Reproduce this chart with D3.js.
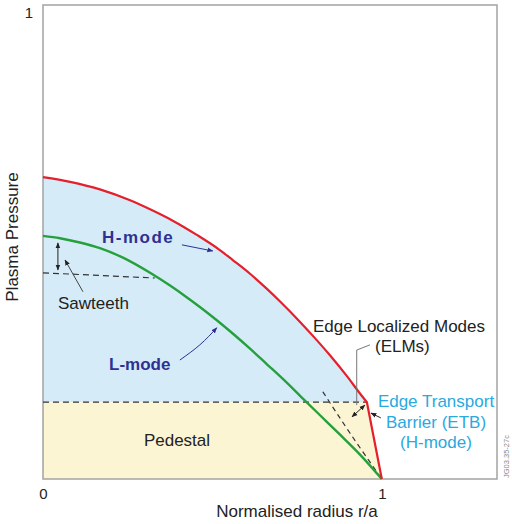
<!DOCTYPE html>
<html>
<head>
<meta charset="utf-8">
<script src="https://cdn.jsdelivr.net/npm/d3@7"></script>
<style>
  body { margin: 0; background: #fff; }
  svg { display: block; font-family: "Liberation Sans", Arial, sans-serif; }
</style>
</head>
<body>
<svg id="chart" width="512" height="524"></svg>
<script>
// normalised radius r/a and plasma pressure
const hModeR = [0, 0.080, 0.168, 0.257, 0.316, 0.383, 0.454, 0.522, 0.560, 0.611, 0.661, 0.699, 0.758, 0.808, 0.847, 0.897, 0.935, 0.956, 1];
const hModeP = [0.637, 0.627, 0.611, 0.588, 0.569, 0.545, 0.515, 0.483, 0.462, 0.433, 0.401, 0.375, 0.332, 0.293, 0.261, 0.217, 0.181, 0.162, 0];
const lModeR = [0, 0.050, 0.109, 0.168, 0.236, 0.316, 0.375, 0.425, 0.463, 0.513, 0.560, 0.611, 0.661, 0.708, 0.761, 0.817, 0.876, 0.935, 1];
const lModeP = [0.513, 0.508, 0.499, 0.487, 0.467, 0.435, 0.408, 0.383, 0.363, 0.335, 0.307, 0.275, 0.242, 0.211, 0.174, 0.135, 0.094, 0.052, 0];
const pedestalP = 0.162;
const pedestalEnd = 0.956;
const sawtoothR = [0, 0.330];
const sawtoothP = [0.435, 0.424];
const elmR = [0.826, 0.906, 1];
const elmP = [0.184, 0.097, 0];
const xTicks = [0, 1];
const yTicks = [1];

const width = 512;
const height = 524;
const margin = { top: 5, right: 15, bottom: 45, left: 43 };

const svg = d3.select('#chart');
const x = d3.scaleLinear().domain([0, 1.34]).range([margin.left, width - margin.right]);
const y = d3.scaleLinear().domain([0, 1]).range([height - margin.bottom, margin.top]);

const hMode = hModeR.map((r, i) => ({ r, p: hModeP[i] }));
const lMode = lModeR.map((r, i) => ({ r, p: lModeP[i] }));
const pt = (r, p) => [x(r), y(p)];

// H-mode: smooth core profile, then the steep straight edge barrier
const knee = hModeR.indexOf(pedestalEnd);
const hCore = hMode.slice(0, knee + 1);
const hEdge = hMode[hMode.length - 1];
const hPath = d3.line().x(d => x(d.r)).y(d => y(d.p)).curve(d3.curveMonotoneX)(hCore) +
  `L${x(hEdge.r)},${y(hEdge.p)}`;

const defs = svg.append('defs');
const marker = (id, color) =>
  defs.append('marker')
    .attr('id', id)
    .attr('viewBox', '0 0 10 10')
    .attr('refX', 9).attr('refY', 5)
    .attr('markerWidth', 6).attr('markerHeight', 6)
    .attr('orient', 'auto-start-reverse')
    .append('path')
    .attr('d', 'M0,1 L10,5 L0,9 Z')
    .attr('fill', color);
marker('head-dark', '#222');
marker('head-blue', '#2e3192');

// region under the H-mode profile, used to clip both fills
defs.append('clipPath').attr('id', 'under-h')
  .append('path')
  .attr('d', hPath + `L${x(0)},${y(0)}Z`);

const fills = svg.append('g').attr('clip-path', 'url(#under-h)');
fills.append('rect')
  .attr('x', x(0)).attr('y', y(1))
  .attr('width', x(1) - x(0)).attr('height', y(pedestalP) - y(1))
  .attr('fill', '#d5ecf8');
fills.append('rect')
  .attr('x', x(0)).attr('y', y(pedestalP))
  .attr('width', x(1) - x(0)).attr('height', y(0) - y(pedestalP))
  .attr('fill', '#fbf5d3');

// frame
svg.append('rect')
  .attr('x', x(0)).attr('y', y(1))
  .attr('width', x.range()[1] - x(0)).attr('height', y(0) - y(1))
  .attr('fill', 'none').attr('stroke', '#a3a3a3').attr('stroke-width', 1.5);

const dash = (pts) =>
  svg.append('path')
    .attr('d', d3.line()(pts))
    .attr('fill', 'none').attr('stroke', '#333')
    .attr('stroke-width', 1.2).attr('stroke-dasharray', '6,4');

dash([pt(0, pedestalP), pt(pedestalEnd, pedestalP)]);
dash(sawtoothR.map((r, i) => pt(r, sawtoothP[i])));
svg.append('path')
  .attr('d', d3.line().curve(d3.curveNatural)(elmR.map((r, i) => pt(r, elmP[i]))))
  .attr('fill', 'none').attr('stroke', '#333')
  .attr('stroke-width', 1.2).attr('stroke-dasharray', '5,4');

svg.append('path')
  .attr('d', d3.line().x(d => x(d.r)).y(d => y(d.p)).curve(d3.curveMonotoneX)(lMode))
  .attr('fill', 'none').attr('stroke', '#26a03c').attr('stroke-width', 2.4);
svg.append('path')
  .attr('d', hPath)
  .attr('fill', 'none').attr('stroke', '#e3202b').attr('stroke-width', 2.2)
  .attr('stroke-linejoin', 'round');

// annotation arrows
const arrow = (pts, color, start, curve) =>
  svg.append('path')
    .attr('d', d3.line().curve(curve || d3.curveLinear)(pts))
    .attr('fill', 'none').attr('stroke', color).attr('stroke-width', 1)
    .attr('marker-end', `url(#head-${color === '#2e3192' ? 'blue' : 'dark'})`)
    .attr('marker-start', start ? 'url(#head-dark)' : null);

arrow([pt(0.044, 0.441), pt(0.044, 0.498)], '#222', true);
arrow([pt(0.118, 0.395), pt(0.065, 0.462)], '#444');
arrow([pt(0.410, 0.494), pt(0.501, 0.481)], '#2e3192');
arrow([pt(0.404, 0.251), pt(0.463, 0.283), pt(0.513, 0.319)], '#2e3192', false, d3.curveNatural);
arrow([pt(0.912, 0.131), pt(0.950, 0.156)], '#222', true);
arrow([pt(0.997, 0.129), pt(0.968, 0.139)], '#222');
svg.append('path')
  .attr('d', d3.line()([pt(0.965, 0.283), pt(0.926, 0.272), pt(0.926, 0.156)]))
  .attr('fill', 'none').attr('stroke', '#777').attr('stroke-width', 1);

// axes
const xAxis = svg.append('g')
  .attr('transform', `translate(0,${y(0)})`)
  .call(d3.axisBottom(x).tickValues(xTicks).tickSize(0).tickPadding(9).tickFormat(d3.format('d')));
const yAxis = svg.append('g')
  .attr('transform', `translate(${x(0)},0)`)
  .call(d3.axisLeft(y).tickValues(yTicks).tickSize(0).tickPadding(10).tickFormat(d3.format('d')));
[xAxis, yAxis].forEach(g => {
  g.select('.domain').remove();
  g.selectAll('text').attr('font-size', 15).attr('fill', '#222')
    .attr('font-family', '"Liberation Sans", Arial, sans-serif');
});
yAxis.selectAll('text').attr('dy', '0.85em');

svg.append('text')
  .attr('x', 297).attr('y', 517)
  .attr('text-anchor', 'middle').attr('font-size', 17).attr('fill', '#222')
  .text('Normalised radius r/a');
svg.append('text')
  .attr('transform', 'translate(18,237) rotate(-90)')
  .attr('text-anchor', 'middle').attr('font-size', 17).attr('fill', '#222')
  .text('Plasma Pressure');

// labels
const label = (txt, px, py, opts = {}) =>
  svg.append('text')
    .attr('x', px).attr('y', py)
    .attr('text-anchor', opts.anchor || 'start')
    .attr('font-size', opts.size || 17)
    .attr('font-weight', opts.weight || 'normal')
    .attr('letter-spacing', opts.spacing || 0)
    .attr('fill', opts.color || '#222')
    .text(txt);

label('H-mode', 102, 243, { weight: 'bold', color: '#2e3192', spacing: 1.5 });
label('L-mode', 109, 370, { weight: 'bold', color: '#2e3192' });
label('Sawteeth', 58, 309);
label('Pedestal', 177, 446, { anchor: 'middle' });
label('Edge Localized Modes', 313, 332);
label('(ELMs)', 375, 352);
label('Edge Transport', 436, 407, { anchor: 'middle', color: '#29a9e0' });
label('Barrier (ETB)', 436, 428, { anchor: 'middle', color: '#29a9e0' });
label('(H-mode)', 436, 448, { anchor: 'middle', color: '#29a9e0' });

svg.append('text')
  .attr('transform', 'translate(509,478) rotate(-90)')
  .attr('font-size', 7.5).attr('fill', '#888')
  .text('JG03.35-27c');
</script>
</body>
</html>
